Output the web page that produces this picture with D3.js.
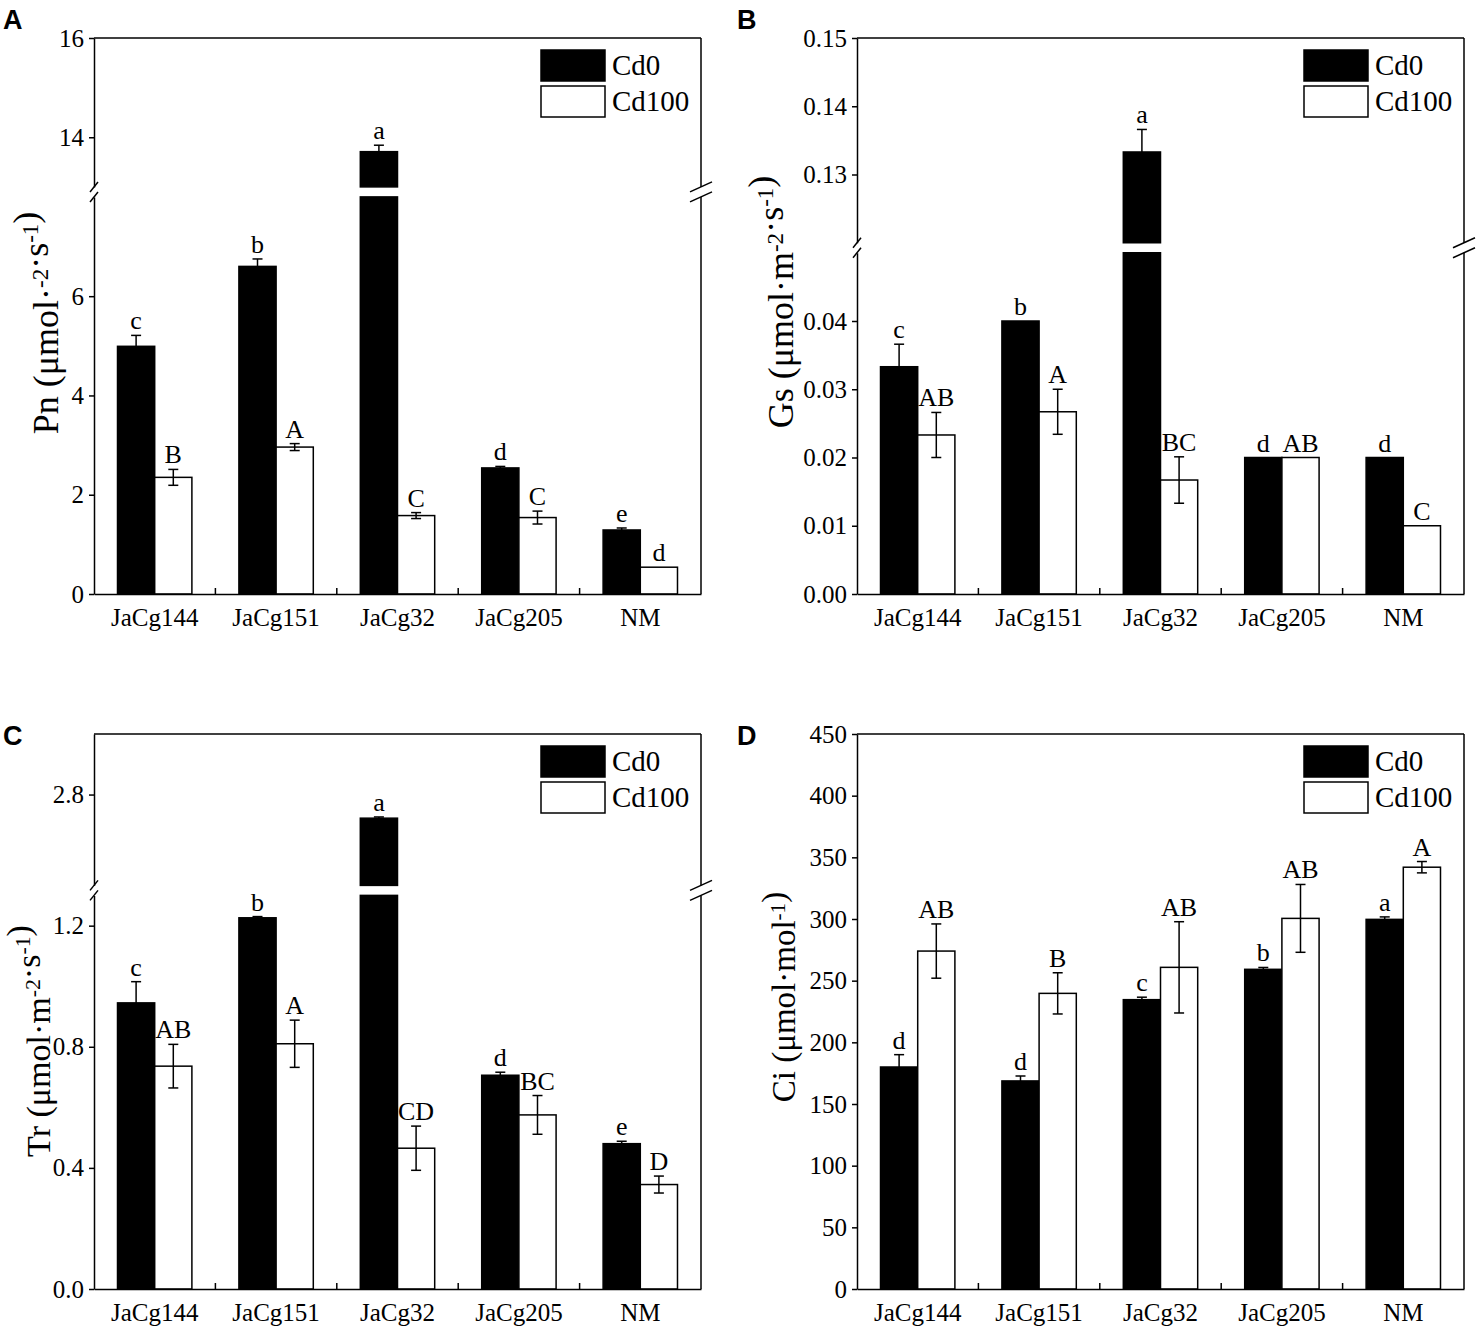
<!DOCTYPE html>
<html>
<head>
<meta charset="utf-8">
<script src="https://cdn.jsdelivr.net/npm/d3@7"></script>
<style>
  body { margin: 0; background: #fff; }
  text { font-family: "Liberation Serif", "Times New Roman", serif; fill: #000; }
  .panelLetter { font-family: "Liberation Sans", Arial, sans-serif; font-weight: bold; }
</style>
</head>
<body>
<div id="chart"></div>
<script>
// categories and treatments
var categories = ["JaCg144", "JaCg151", "JaCg32", "JaCg205", "NM"];
var treatments = ["Cd0", "Cd100"];

// A - Pn
var pnCd0 = [4.99, 6.60, 13.71, 2.54, 1.29];
var pnCd0Err = [0.22, 0.15, 0.13, 0.03, 0.04];
var pnCd100 = [2.35, 2.96, 1.58, 1.54, 0.54];
var pnCd100Err = [0.16, 0.07, 0.06, 0.13, 0.0];
var pnSig0 = ["c", "b", "a", "d", "e"];
var pnSig1 = ["B", "A", "C", "C", "d"];

// B - Gs
var gsCd0 = [0.0333, 0.0400, 0.1333, 0.0200, 0.0200];
var gsCd0Err = [0.0033, 0, 0.0033, 0, 0];
var gsCd100 = [0.0233, 0.0267, 0.0167, 0.0200, 0.0100];
var gsCd100Err = [0.0033, 0.0033, 0.0034, 0, 0];
var gsSig0 = ["c", "b", "a", "d", "d"];
var gsSig1 = ["AB", "A", "BC", "AB", "C"];

// C - Tr
var trCd0 = [0.945, 1.226, 2.722, 0.706, 0.480];
var trCd0Err = [0.07, 0.004, 0.004, 0.01, 0.008];
var trCd100 = [0.736, 0.810, 0.465, 0.575, 0.345];
var trCd100Err = [0.072, 0.078, 0.073, 0.064, 0.028];
var trSig0 = ["c", "b", "a", "d", "e"];
var trSig1 = ["AB", "A", "CD", "BC", "D"];

// D - Ci
var ciCd0 = [180, 168.7, 234.6, 259.2, 299.7];
var ciCd0Err = [10, 4, 2, 1.5, 2];
var ciCd100 = [274, 239.7, 260.8, 300.5, 342];
var ciCd100Err = [22, 16.7, 37, 27.5, 4.6];
var ciSig0 = ["d", "d", "c", "b", "a"];
var ciSig1 = ["AB", "B", "AB", "AB", "A"];

// axis segments (broken axes) and tick labels
var pnSegments = [{domain: [0, 8], ticks: [0, 2, 4, 6]}, {domain: [13, 16], ticks: [14, 16]}];
var gsSegments = [{domain: [0, 0.05], ticks: [0, 0.01, 0.02, 0.03, 0.04]}, {domain: [0.12, 0.15], ticks: [0.13, 0.14, 0.15]}];
var trSegments = [{domain: [0, 1.3], ticks: [0, 0.4, 0.8, 1.2]}, {domain: [2.5, 3.0], ticks: [2.8]}];
var ciSegments = [{domain: [0, 450], ticks: [0, 50, 100, 150, 200, 250, 300, 350, 400, 450]}];

var svgWidth = 1480, svgHeight = 1333;

var svg = d3.select("#chart")
  .append("svg")
  .attr("width", svgWidth)
  .attr("height", svgHeight)
  .style("background", "#fff");

function drawPanel(p) {
  var g = svg.append("g");
  var H = p.bottom - p.top;
  var gap = 10;
  var span = d3.sum(p.segments, s => s.domain[1] - s.domain[0]);
  var k = (H - gap * (p.segments.length - 1)) / span;

  // one linear scale per axis segment
  var y0 = p.bottom;
  p.segments.forEach(function(s, i) {
    var h = (s.domain[1] - s.domain[0]) * k;
    var y1 = (i === p.segments.length - 1) ? p.top : y0 - h;
    s.scale = d3.scaleLinear().domain(s.domain).range([y0, y1]);
    y0 = y1 - gap;
  });

  function segOf(v) {
    var seg = p.segments[0];
    p.segments.forEach(function(s) { if (v >= s.domain[0]) seg = s; });
    return seg;
  }
  function yOf(v) { return segOf(v).scale(v); }

  var x0 = d3.scaleBand().domain(categories).range([p.left, p.right]);
  var x1 = d3.scaleBand().domain(treatments).range([0, x0.bandwidth()]).paddingOuter(0.632);

  var series = [
    {key: "Cd0", vals: p.cd0, errs: p.cd0Err, sig: p.sig0, fill: "#000"},
    {key: "Cd100", vals: p.cd100, errs: p.cd100Err, sig: p.sig1, fill: "#fff"}
  ];

  // bars (split across axis segments)
  series.forEach(function(sr) {
    var rows = categories.map((c, i) => ({cat: c, v: sr.vals[i], e: sr.errs[i], s: sr.sig[i]}));
    p.segments.forEach(function(seg) {
      g.selectAll(null)
        .data(rows.filter(d => d.v > seg.domain[0]))
        .enter()
        .append("rect")
        .attr("x", d => x0(d.cat) + x1(sr.key))
        .attr("width", x1.bandwidth())
        .attr("y", d => seg.scale(Math.min(d.v, seg.domain[1])))
        .attr("height", d => seg.scale(seg.domain[0]) - seg.scale(Math.min(d.v, seg.domain[1])))
        .attr("fill", sr.fill)
        .attr("stroke", "#000")
        .attr("stroke-width", 1.5);
    });

    // error bars
    var eb = g.selectAll(null)
      .data(rows.filter(d => d.e > 0))
      .enter()
      .append("g")
      .attr("transform", d => `translate(${x0(d.cat) + x1(sr.key) + x1.bandwidth() / 2},0)`);
    eb.append("line")
      .attr("y1", d => yOf(d.v - d.e)).attr("y2", d => yOf(d.v + d.e))
      .attr("stroke", "#000").attr("stroke-width", 1.5);
    eb.append("line")
      .attr("x1", -5).attr("x2", 5)
      .attr("y1", d => yOf(d.v + d.e)).attr("y2", d => yOf(d.v + d.e))
      .attr("stroke", "#000").attr("stroke-width", 1.5);
    eb.append("line")
      .attr("x1", -5).attr("x2", 5)
      .attr("y1", d => yOf(d.v - d.e)).attr("y2", d => yOf(d.v - d.e))
      .attr("stroke", "#000").attr("stroke-width", 1.5);

    // significance letters
    g.selectAll(null)
      .data(rows)
      .enter()
      .append("text")
      .attr("x", d => x0(d.cat) + x1(sr.key) + x1.bandwidth() / 2)
      .attr("y", d => yOf(d.v + d.e) - 6)
      .attr("text-anchor", "middle")
      .style("font-size", "26px")
      .text(d => d.s);
  });

  // left axis segments + right frame
  p.segments.forEach(function(seg) {
    var leftAxis = d3.axisLeft(seg.scale)
      .tickValues(seg.ticks)
      .tickSizeInner(5)
      .tickSizeOuter(0)
      .tickPadding(5)
      .tickFormat(p.fmt);
    var ax = g.append("g")
      .attr("transform", `translate(${p.left},0)`)
      .call(leftAxis);
    ax.selectAll("path, line").attr("stroke", "#000").attr("stroke-width", 1.5);
    ax.selectAll("text")
      .style("font-family", "Liberation Serif")
      .style("font-size", "25px");

    g.append("line")
      .attr("x1", p.right).attr("x2", p.right)
      .attr("y1", seg.scale.range()[0]).attr("y2", seg.scale.range()[1])
      .attr("stroke", "#000").attr("stroke-width", 1.5);
  });

  // break marks
  if (p.segments.length > 1) {
    var ends = [p.segments[0].scale.range()[1], p.segments[1].scale.range()[0]];
    ends.forEach(function(yb) {
      g.append("line")
        .attr("x1", p.left - 4).attr("y1", yb + 5)
        .attr("x2", p.left + 4).attr("y2", yb - 5)
        .attr("stroke", "#000").attr("stroke-width", 1.5);
      g.append("line")
        .attr("x1", p.right - 11).attr("y1", yb + 5)
        .attr("x2", p.right + 11).attr("y2", yb - 5)
        .attr("stroke", "#000").attr("stroke-width", 1.5);
    });
  }

  // top frame
  g.append("line")
    .attr("x1", p.left).attr("x2", p.right)
    .attr("y1", p.top).attr("y2", p.top)
    .attr("stroke", "#000").attr("stroke-width", 1.5);

  // bottom axis
  var bottomAxis = d3.axisBottom(x0).tickSize(0).tickPadding(14);
  var bx = g.append("g")
    .attr("transform", `translate(0,${p.bottom})`)
    .call(bottomAxis);
  bx.select("path").attr("stroke", "#000").attr("stroke-width", 1.5);
  bx.selectAll("text")
    .style("font-family", "Liberation Serif")
    .style("font-size", "25px");

  // inside ticks between categories
  g.selectAll(null)
    .data(categories.slice(1))
    .enter()
    .append("line")
    .attr("x1", d => x0(d)).attr("x2", d => x0(d))
    .attr("y1", p.bottom).attr("y2", p.bottom - 6)
    .attr("stroke", "#000").attr("stroke-width", 1.5);

  // legend
  var lg = g.append("g").attr("transform", `translate(${p.right - 160},${p.top + 12})`);
  [["Cd0", "#000"], ["Cd100", "#fff"]].forEach(function(it, i) {
    lg.append("rect")
      .attr("x", 0).attr("y", i * 36)
      .attr("width", 64).attr("height", 31)
      .attr("fill", it[1]).attr("stroke", "#000").attr("stroke-width", 1.5);
    lg.append("text")
      .attr("x", 71).attr("y", i * 36 + 25)
      .style("font-size", "29px")
      .text(it[0]);
  });

  // y title
  var t = g.append("text")
    .attr("transform", `translate(${p.titleX},${p.titleY}) rotate(-90)`)
    .attr("text-anchor", "middle")
    .style("font-size", p.titleSize + "px");
  p.title.forEach(function(part) {
    if (part.sup) {
      t.append("tspan").attr("dy", -10).style("font-size", "0.64em").text(part.sup);
      t.append("tspan").attr("dy", 10).text("");
    } else {
      t.append("tspan").text(part.t);
    }
  });

  // panel letter
  svg.append("text")
    .attr("class", "panelLetter")
    .attr("x", p.letterX).attr("y", p.letterY)
    .style("font-size", "27px")
    .text(p.letter);
}

drawPanel({
  left: 94, right: 701, top: 38, bottom: 594,
  segments: pnSegments, fmt: d3.format("d"),
  cd0: pnCd0, cd0Err: pnCd0Err, cd100: pnCd100, cd100Err: pnCd100Err,
  sig0: pnSig0, sig1: pnSig1,
  title: [{t: "Pn (μmol·"}, {sup: "-2"}, {t: "·s"}, {sup: "-1"}, {t: ")"}],
  titleX: 58, titleY: 323, titleSize: 36,
  letter: "A", letterX: 3, letterY: 29
});

drawPanel({
  left: 857, right: 1464, top: 38, bottom: 594,
  segments: gsSegments, fmt: d3.format(".2f"),
  cd0: gsCd0, cd0Err: gsCd0Err, cd100: gsCd100, cd100Err: gsCd100Err,
  sig0: gsSig0, sig1: gsSig1,
  title: [{t: "Gs (μmol·m"}, {sup: "-2"}, {t: "·s"}, {sup: "-1"}, {t: ")"}],
  titleX: 793, titleY: 302, titleSize: 36,
  letter: "B", letterX: 737, letterY: 29
});

drawPanel({
  left: 94, right: 701, top: 734, bottom: 1289,
  segments: trSegments, fmt: d3.format(".1f"),
  cd0: trCd0, cd0Err: trCd0Err, cd100: trCd100, cd100Err: trCd100Err,
  sig0: trSig0, sig1: trSig1,
  title: [{t: "Tr (μmol·m"}, {sup: "-2"}, {t: "·s"}, {sup: "-1"}, {t: ")"}],
  titleX: 50, titleY: 1041, titleSize: 34,
  letter: "C", letterX: 3, letterY: 745
});

drawPanel({
  left: 857, right: 1464, top: 734, bottom: 1289,
  segments: ciSegments, fmt: d3.format("d"),
  cd0: ciCd0, cd0Err: ciCd0Err, cd100: ciCd100, cd100Err: ciCd100Err,
  sig0: ciSig0, sig1: ciSig1,
  title: [{t: "Ci (μmol·mol"}, {sup: "-1"}, {t: ")"}],
  titleX: 795, titleY: 997, titleSize: 33,
  letter: "D", letterX: 737, letterY: 745
});
</script>
</body>
</html>
